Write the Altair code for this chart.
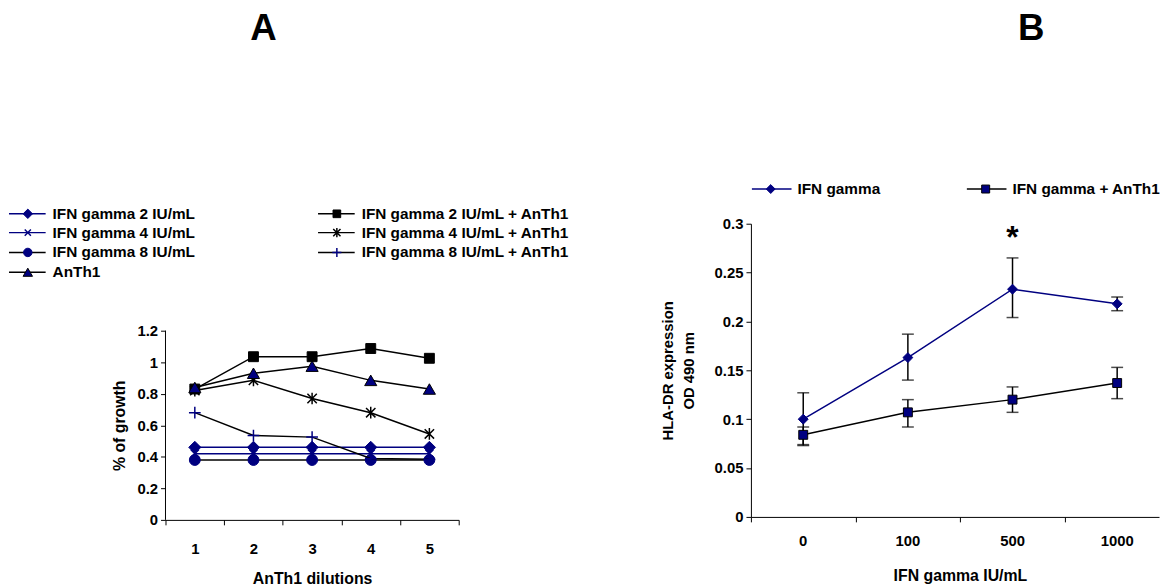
import altair as alt
import pandas as pd

FONT = "Liberation Sans"
NAVY = "#000080"
BLACK = "#000000"

# ---------------- Panel A data ----------------
dilutions = ["1", "2", "3", "4", "5"]
ifn2 = [0.46, 0.46, 0.46, 0.46, 0.46]
ifn2_anth1 = [0.83, 1.035, 1.035, 1.087, 1.025]
ifn4 = [0.42, 0.42, 0.42, 0.42, 0.42]
ifn4_anth1 = [0.82, 0.885, 0.77, 0.68, 0.545]
ifn8 = [0.38, 0.38, 0.38, 0.38, 0.38]
ifn8_anth1 = [0.68, 0.535, 0.525, 0.39, 0.385]
anth1 = [0.84, 0.93, 0.975, 0.885, 0.83]
a_ticks = [0, 0.2, 0.4, 0.6, 0.8, 1.0, 1.2]

# ---------------- Panel B data ----------------
conc = ["0", "100", "500", "1000"]
ifn_mean = [0.100, 0.163, 0.233, 0.218]
ifn_lo = [0.073, 0.140, 0.204, 0.211]
ifn_hi = [0.127, 0.187, 0.265, 0.225]
comb_mean = [0.084, 0.107, 0.120, 0.137]
comb_lo = [0.074, 0.092, 0.107, 0.121]
comb_hi = [0.092, 0.120, 0.133, 0.153]
b_ticks = [0, 0.05, 0.1, 0.15, 0.2, 0.25, 0.3]
star_label = ["*"]
star_conc = ["500"]
star_value = [0.289]

# ---------------- styles ----------------
X_PATH = "M-1,-1L1,1M-1,1L1,-1"
PLUS_PATH = "M-1,0L1,0M0,-1L0,1"
AST_PATH = "M0,-1L0,1M-0.8,-0.8L0.8,0.8M-0.8,0.8L0.8,-0.8"

series_a = [
    # name, values, line color, shape, fill, stroke, size, legend col, legend row
    ("IFN gamma 2 IU/mL", ifn2, NAVY, "diamond", NAVY, NAVY, 150, 0, 0),
    ("IFN gamma 2 IU/mL + AnTh1", ifn2_anth1, BLACK, "square", BLACK, BLACK, 100, 1, 0),
    ("IFN gamma 4 IU/mL", ifn4, NAVY, X_PATH, None, NAVY, 64, 0, 1),
    ("IFN gamma 4 IU/mL + AnTh1", ifn4_anth1, BLACK, AST_PATH, None, BLACK, 140, 1, 1),
    ("IFN gamma 8 IU/mL", ifn8, BLACK, "circle", NAVY, NAVY, 121, 0, 2),
    ("IFN gamma 8 IU/mL + AnTh1", ifn8_anth1, BLACK, PLUS_PATH, None, NAVY, 140, 1, 2),
    ("AnTh1", anth1, BLACK, "triangle-up", NAVY, BLACK, 150, 0, 3),
]

# Both panels share the same plot-area top (row alignment of hconcat);
# panel A's axis only covers 0..1.2 in the lower 191 px of its 299 px area.
A_W, A_H = 296, 299
A_AXIS_H = 191
A_TOP = A_H - A_AXIS_H
A_DOMAIN_MAX = max(a_ticks) * A_H / A_AXIS_H
B_W, B_H = 412, 296
B_X_DOMAIN = [-0.5, len(conc) - 0.6]   # the last category band runs past the page edge
B_X_TICKS = [i - 0.5 for i in range(len(conc))]

xa = alt.X("dil:N", sort=dilutions,
           scale=alt.Scale(type="band", paddingInner=0, paddingOuter=0),
           axis=alt.Axis(title="AnTh1 dilutions", labelAngle=0, tickBand="extent",
                         labelPadding=17, titlePadding=14, titleFontSize=16))
ya = alt.Y("v:Q", scale=alt.Scale(domain=[0, A_DOMAIN_MAX], nice=False, zero=True),
           axis=alt.Axis(title="% of growth", values=a_ticks, format="~g", domain=False,
                         labelPadding=3, titlePadding=10, titleFontSize=16,
                         titleY=A_TOP + A_AXIS_H / 2))


def point_mark(shape, fill, stroke, size, **kw):
    if fill is None:
        return dict(shape=shape, filled=False, stroke=stroke, strokeWidth=1.5,
                    size=size, opacity=1, **kw)
    return dict(shape=shape, filled=True, fill=fill, stroke=stroke, strokeWidth=1,
                size=size, opacity=1, **kw)


layers_a = []
# y axis line of panel A (spans the tick range only)
axis_df = pd.DataFrame({"lo": [min(a_ticks)], "hi": [max(a_ticks)]})
layers_a.append(alt.Chart(axis_df).mark_rule(color=BLACK, strokeWidth=1).encode(
    x=alt.value(0), y=alt.Y("lo:Q", scale=alt.Scale(domain=[0, A_DOMAIN_MAX], nice=False)),
    y2="hi:Q"))

for name, vals, lcol, shape, fill, stroke, size, _, _ in series_a:
    df = pd.DataFrame({"dil": dilutions, "v": vals})
    base = alt.Chart(df)
    layers_a.append(base.mark_line(color=lcol, strokeWidth=1.5).encode(x=xa, y=ya))
    layers_a.append(base.mark_point(**point_mark(shape, fill, stroke, size)).encode(x=xa, y=ya))

# legend A (positions relative to plot area)
col_x = [-158, 154]
row_y = [-10, 9, 29, 49]
for name, vals, lcol, shape, fill, stroke, size, col, row in series_a:
    x0 = col_x[col]
    y0 = row_y[row]
    d = pd.DataFrame({"label": [name]})
    b = alt.Chart(d)
    layers_a.append(b.mark_rule(color=lcol, strokeWidth=1.5).encode(
        x=alt.value(x0), x2=alt.value(x0 + 37), y=alt.value(y0)))
    lsize = size * 0.6
    layers_a.append(b.mark_point(**point_mark(shape, fill, stroke, lsize)).encode(
        x=alt.value(x0 + 19), y=alt.value(y0)))
    layers_a.append(b.mark_text(align="left", baseline="middle", font=FONT,
                                fontSize=15.5, fontWeight="bold", color=BLACK).encode(
        x=alt.value(x0 + 44), y=alt.value(y0), text="label:N"))

layers_a.append(alt.Chart(pd.DataFrame({"t": ["A"]})).mark_text(
    font=FONT, fontSize=37, fontWeight="bold", color=BLACK, baseline="middle").encode(
    x=alt.value(99), y=alt.value(-196), text="t:N"))
# right spacer for layout
layers_a.append(alt.Chart(pd.DataFrame({"s": [0]})).mark_rule(opacity=0, strokeWidth=1).encode(
    x=alt.value(434), y=alt.value(0), y2=alt.value(2)))

chart_a = alt.layer(*layers_a).properties(width=A_W, height=A_H)

# ---------------- Panel B ----------------
xscale_b = alt.Scale(domain=B_X_DOMAIN, nice=False, zero=False)
xb = alt.X("i:Q", scale=xscale_b,
           axis=alt.Axis(title="IFN gamma IU/mL", values=B_X_TICKS, labels=False,
                         titlePadding=46, titleFontSize=16, titleX=B_W / 2 + 5))
yb = alt.Y("m:Q", scale=alt.Scale(domain=[0, 0.3], nice=False, zero=True),
           axis=alt.Axis(title=["HLA-DR expression", "OD 490 nm"], values=b_ticks,
                         format="~g", labelPadding=3, titlePadding=18, titleLineHeight=21))

idx = list(range(len(conc)))
df_ifn = pd.DataFrame({"i": idx, "c": conc, "m": ifn_mean, "lo": ifn_lo, "hi": ifn_hi})
df_comb = pd.DataFrame({"i": idx, "c": conc, "m": comb_mean, "lo": comb_lo, "hi": comb_hi})

layers_b = []
# category labels of the x axis (centred in their bands)
layers_b.append(alt.Chart(pd.DataFrame({"i": idx, "c": conc})).mark_text(
    font=FONT, fontSize=15, fontWeight="bold", color=BLACK, baseline="middle").encode(
    x=xb, y=alt.value(B_H + 24), text="c:N"))

b_series = [
    ("IFN gamma", df_ifn, NAVY, "diamond", NAVY, NAVY, 100, 1),
    ("IFN gamma + AnTh1", df_comb, BLACK, "square", NAVY, BLACK, 81, 218),
]
for name, df, lcol, shape, fill, stroke, size, lx in b_series:
    base = alt.Chart(df)
    layers_b.append(base.mark_line(color=lcol, strokeWidth=1.5).encode(x=xb, y=yb))
    layers_b.append(base.mark_rule(color=BLACK, strokeWidth=1.5).encode(
        x=xb, y=alt.Y("lo:Q"), y2="hi:Q"))
    layers_b.append(base.mark_tick(color=BLACK, thickness=1.5, size=12, orient="horizontal").encode(
        x=xb, y=alt.Y("lo:Q")))
    layers_b.append(base.mark_tick(color=BLACK, thickness=1.5, size=12, orient="horizontal").encode(
        x=xb, y=alt.Y("hi:Q")))

for name, df, lcol, shape, fill, stroke, size, lx in b_series:
    base = alt.Chart(df)
    layers_b.append(base.mark_point(**point_mark(shape, fill, stroke, size)).encode(x=xb, y=yb))
    d = alt.Chart(pd.DataFrame({"label": [name]}))
    layers_b.append(d.mark_rule(color=lcol, strokeWidth=1.5).encode(
        x=alt.value(lx), x2=alt.value(lx + 40), y=alt.value(-35)))
    layers_b.append(d.mark_point(**point_mark(shape, fill, stroke, size * 0.8)).encode(
        x=alt.value(lx + 19), y=alt.value(-35)))
    layers_b.append(d.mark_text(align="left", baseline="middle", font=FONT, fontSize=15.5,
                                fontWeight="bold", color=BLACK).encode(
        x=alt.value(lx + 46), y=alt.value(-35), text="label:N"))

star_idx = [conc.index(c) for c in star_conc]
df_star = pd.DataFrame({"i": star_idx, "m": star_value, "t": star_label})
layers_b.append(alt.Chart(df_star).mark_text(font=FONT, fontSize=32, fontWeight="bold",
                                             color=BLACK, baseline="alphabetic", dy=14).encode(
    x=xb, y=yb, text="t:N"))

layers_b.append(alt.Chart(pd.DataFrame({"t": ["B"]})).mark_text(
    font=FONT, fontSize=37, fontWeight="bold", color=BLACK, baseline="middle").encode(
    x=alt.value(283), y=alt.value(-196), text="t:N"))
layers_b.append(alt.Chart(pd.DataFrame({"s": [0]})).mark_rule(opacity=0, strokeWidth=1).encode(
    x=alt.value(-109), y=alt.value(0), y2=alt.value(2)))

chart_b = alt.layer(*layers_b).properties(width=B_W, height=B_H)

chart = alt.hconcat(chart_a, chart_b, spacing=48).properties(
    padding={"left": 0, "top": 0, "right": 0, "bottom": 0}
).configure_view(stroke=None).configure_axis(
    grid=False,
    domainColor=BLACK, domainWidth=1,
    tickColor=BLACK, tickWidth=1, tickSize=5,
    labelFont=FONT, labelFontSize=15, labelFontWeight="bold", labelColor=BLACK,
    titleFont=FONT, titleFontSize=15, titleFontWeight="bold", titleColor=BLACK,
)

chart.save("out.html", embed_options={"renderer": "svg", "actions": False})
